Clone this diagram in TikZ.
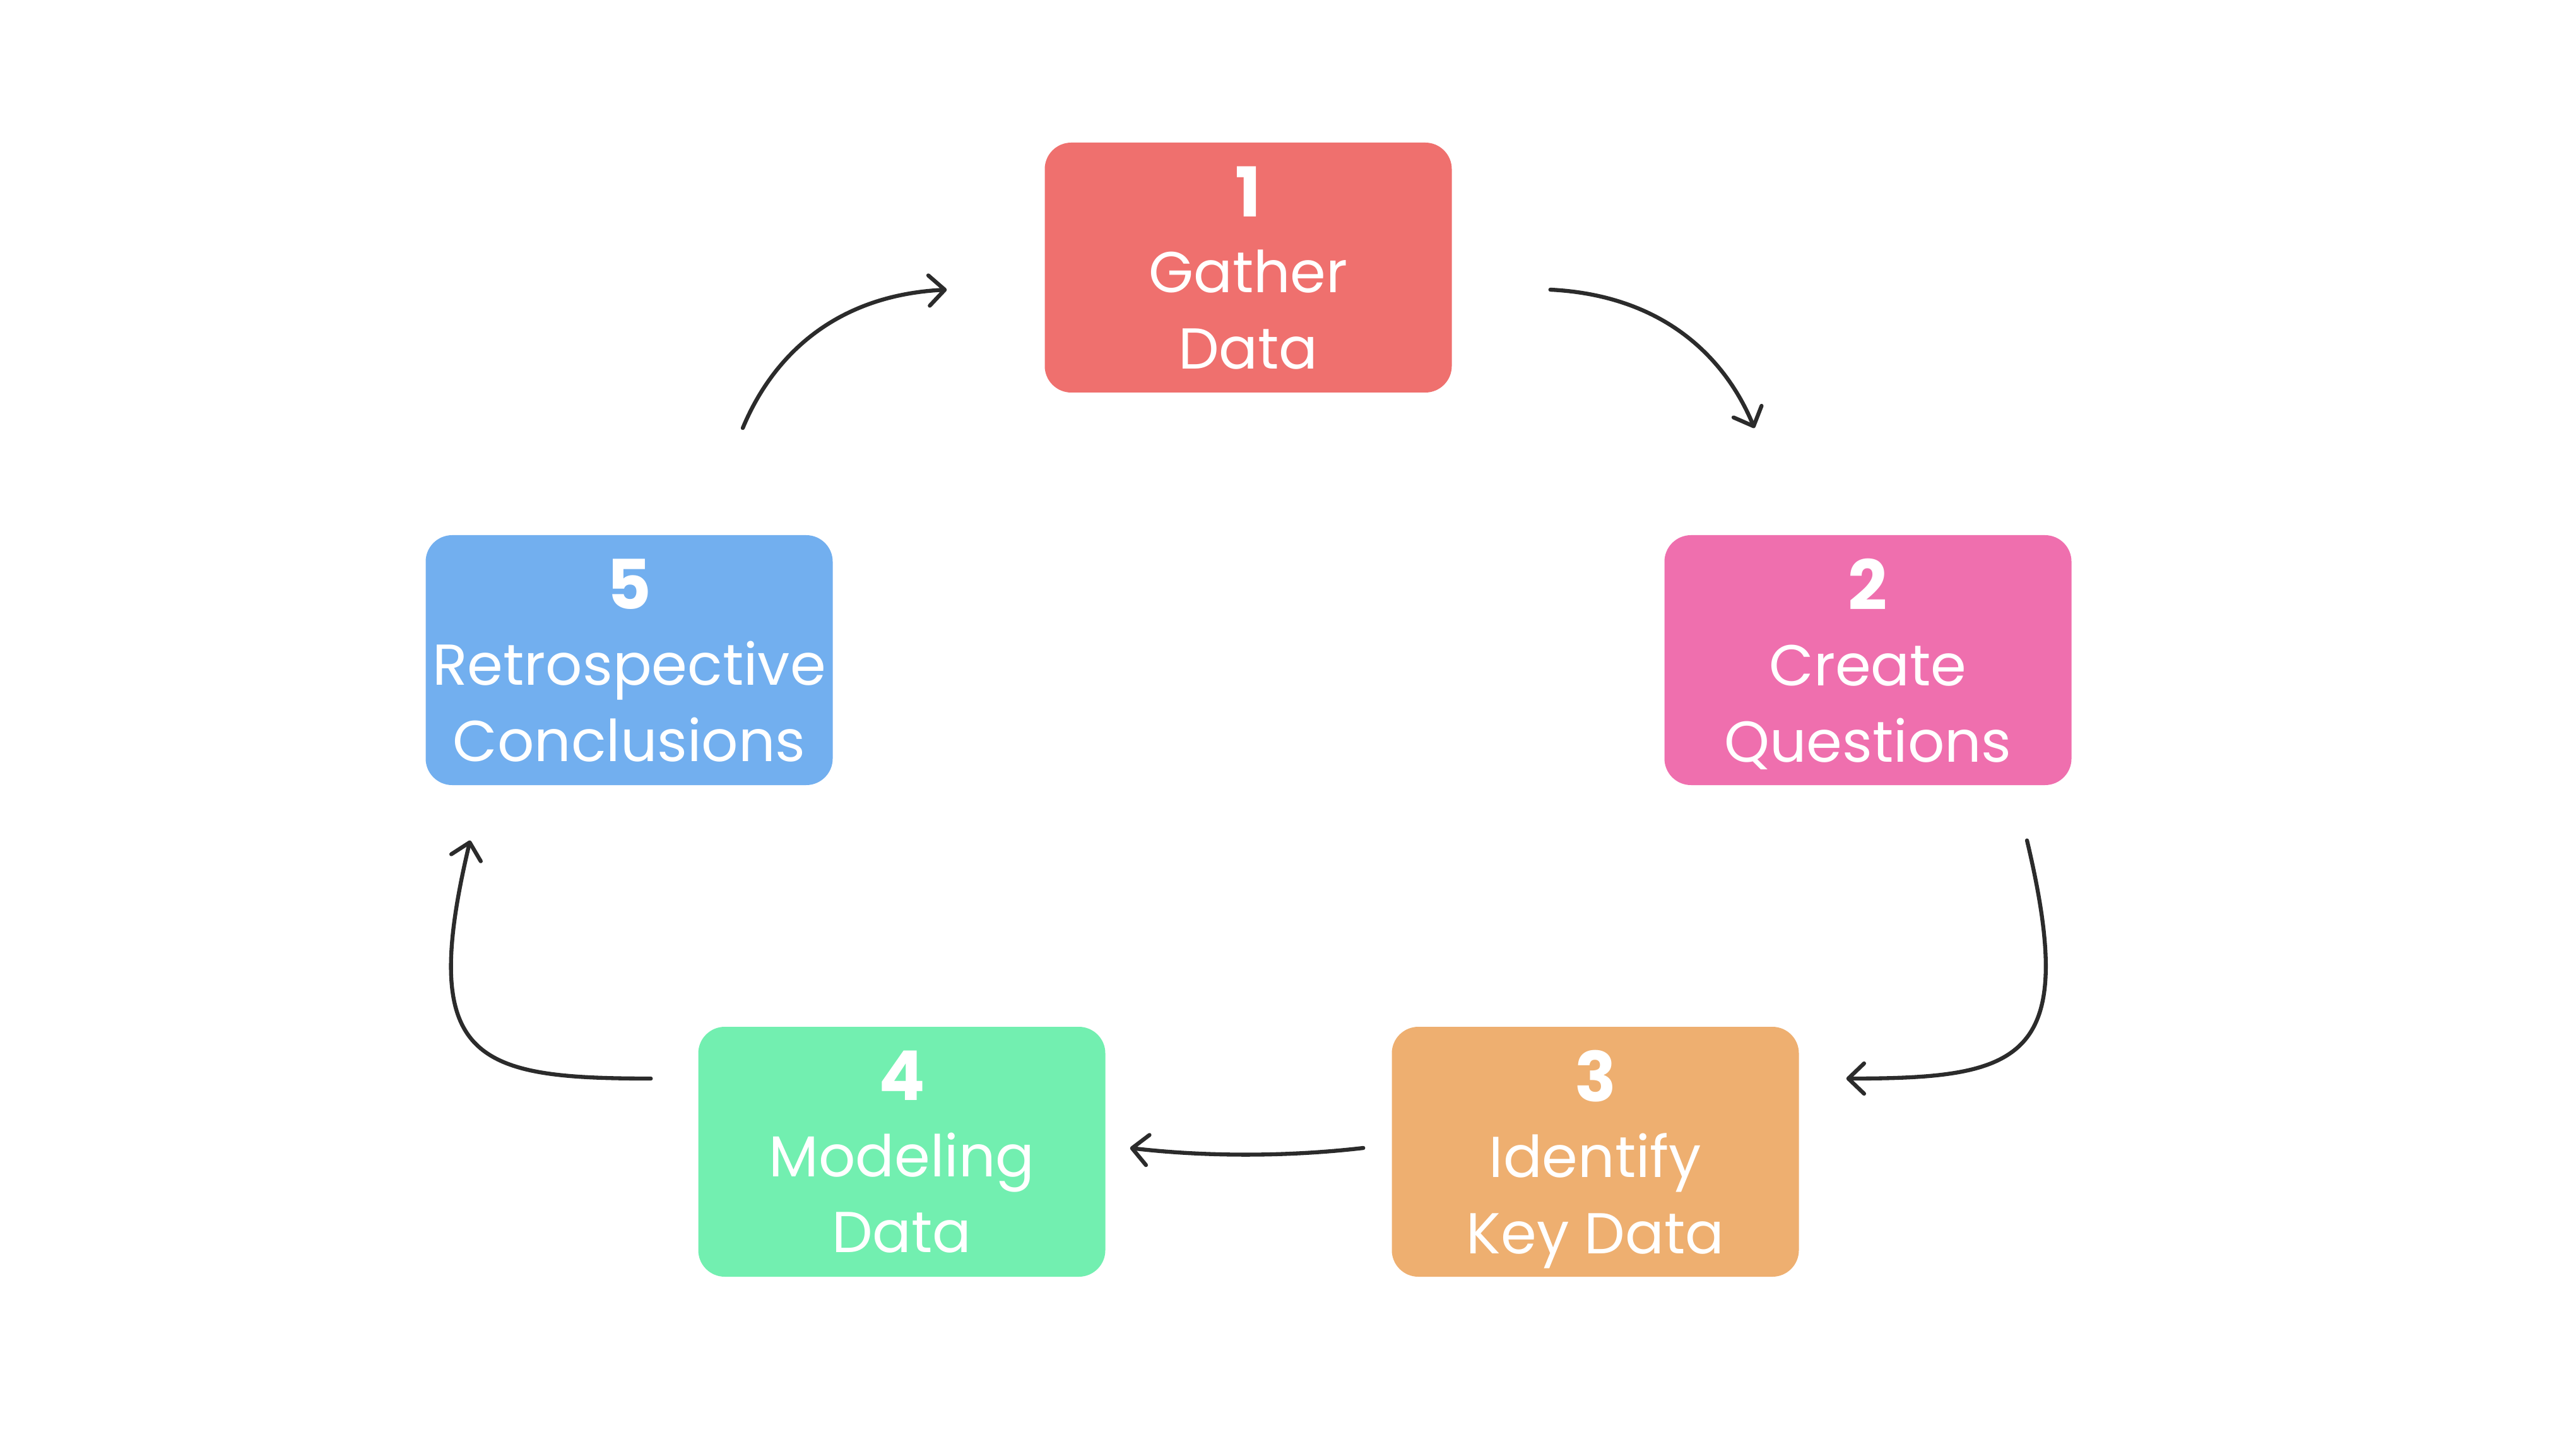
\documentclass[tikz,border=0pt]{standalone}
\usepackage{fontspec}
\setmainfont{Poppins}
\usepackage{tikz}
\usetikzlibrary{positioning,arrows.meta,calc}
\definecolor{stepred}{RGB}{239,112,110}
\definecolor{steppink}{RGB}{239,111,174}
\definecolor{steporange}{RGB}{238,175,112}
\definecolor{stepgreen}{RGB}{114,239,176}
\definecolor{stepblue}{RGB}{114,175,239}
\definecolor{inkgray}{RGB}{43,43,43}
\newcommand{\stepnum}[1]{{\fontsize{31}{34.3}\selectfont\bfseries #1}}
\tikzset{
  stepbox/.style={rectangle, rounded corners=0.42cm, minimum width=6.45cm,
                  minimum height=3.96cm, inner sep=0pt, align=center, text=white,
                  text depth=0pt, font=\fontsize{26}{34.3}\selectfont},
  cyc/.style={-{Straight Barb[length=2.5mm, width=4.8mm, round]}, line width=1.8pt,
              inkgray, line cap=round}
}

\begin{document}
\begin{tikzpicture}
\fill[white] (0,0) rectangle (40.82,-22.96);
\useasboundingbox (0,0) rectangle (40.82,-22.96);

\node (gather) [stepbox, fill=stepred] at (19.78,-4.24) {\stepnum{1}\\Gather\\Data};
\node (create) [stepbox, fill=steppink] at (29.60,-10.46) {\stepnum{2}\\Create\\Questions};
\node (ident) [stepbox, fill=steporange] at (25.28,-18.25) {\stepnum{3}\\Identify\\Key Data};
\node (model) [stepbox, fill=stepgreen] at (14.29,-18.25) {\stepnum{4}\\Modeling\\Data};
\node (retro) [stepbox, fill=stepblue] at (9.97,-10.46) {\stepnum{5}\\Retrospective\\Conclusions};

\coordinate (a1s) at ($(gather.east)+(1.555,-0.35)$);
\coordinate (a1e) at ($(create.north)+(-1.80,1.69)$);
\coordinate (a2s) at ($(create.south)+(2.52,-0.87)$);
\coordinate (a2e) at ($(ident.east)+(0.745,1.16)$);
\coordinate (a3s) at ($(ident.west)+(-0.445,0.06)$);
\coordinate (a3e) at ($(model.east)+(0.385,0.06)$);
\coordinate (a4s) at ($(model.west)+(-0.745,1.16)$);
\coordinate (a4e) at ($(retro.south)+(-2.52,-0.87)$);
\coordinate (a5s) at ($(retro.north)+(1.80,1.69)$);
\coordinate (a5e) at ($(gather.west)+(-1.545,-0.35)$);

\draw[cyc] (a1s) .. controls ($(a1s)+(1.80,-0.09)$) and ($(a1e)+(-0.46,1.11)$) .. (a1e);
\draw[cyc] (a2s) .. controls ($(a2s)+(0.83,-3.49)$) and ($(a2e)+(2.80,0)$) .. (a2e);
\draw[cyc] (a3s) .. controls ($(a3s)+(-1.20,-0.14)$) and ($(a3e)+(1.20,-0.14)$) .. (a3e);
\draw[cyc] (a4s) .. controls ($(a4s)+(-2.80,0)$) and ($(a4e)+(-0.83,-3.49)$) .. (a4e);
\draw[cyc] (a5s) .. controls ($(a5s)+(0.46,1.11)$) and ($(a5e)+(-1.80,-0.09)$) .. (a5e);
\end{tikzpicture}
\end{document}
